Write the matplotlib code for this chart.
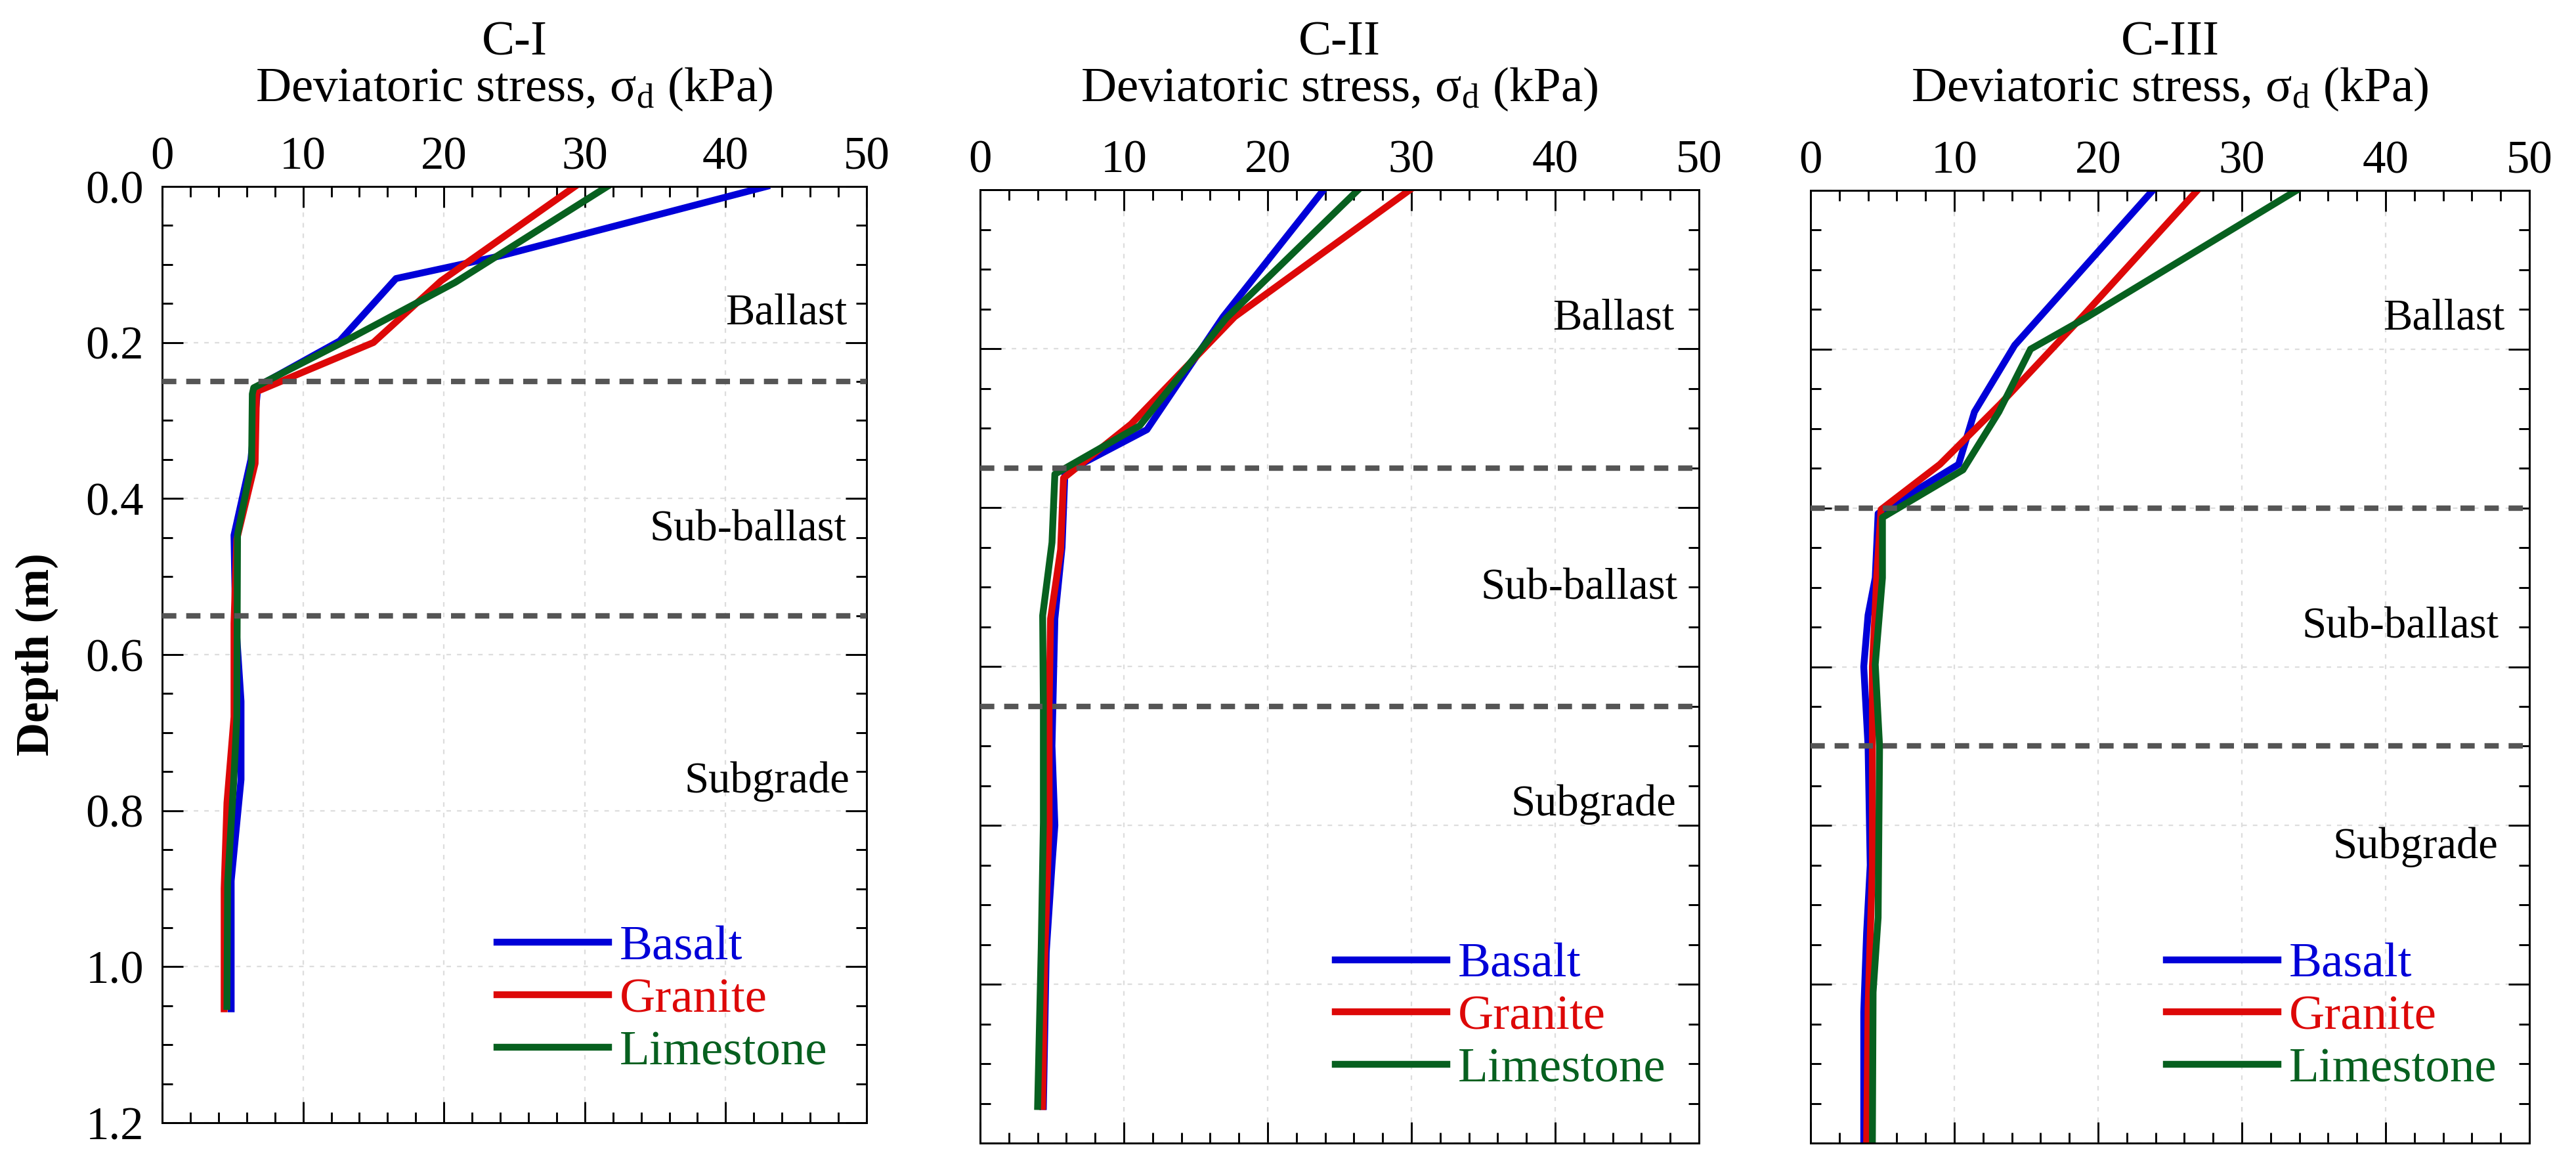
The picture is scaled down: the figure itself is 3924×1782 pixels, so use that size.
import numpy as np
import matplotlib
matplotlib.use("Agg")
import matplotlib.pyplot as plt
from matplotlib.ticker import MultipleLocator, FormatStrFormatter

plt.rcParams['font.family'] = ['Liberation Serif', 'DejaVu Serif']
plt.rcParams['mathtext.fontset'] = 'custom'
plt.rcParams['mathtext.rm'] = 'Liberation Serif'
plt.rcParams['mathtext.it'] = 'Liberation Serif:italic'

# ---- data (stress in kPa, depth in m) ----
panel_names = ['C-I', 'C-II', 'C-III']
materials = ['Basalt', 'Granite', 'Limestone']
colors = ['#0000D8', '#DD0808', '#07601F']

# C-I
c1_basalt_x = [42.9, 24.0, 16.6, 12.6, 6.8, 6.3, 5.1, 5.2, 5.6, 5.6, 4.9, 4.9]
c1_basalt_d = [0.0, 0.089, 0.118, 0.198, 0.256, 0.35, 0.447, 0.55, 0.66, 0.76, 0.89, 1.054]
c1_granite_x = [29.3, 19.8, 15.0, 6.7, 6.6, 5.3, 5.1, 5.1, 4.6, 4.4, 4.4]
c1_granite_d = [0.0, 0.121, 0.2, 0.263, 0.355, 0.452, 0.56, 0.68, 0.79, 0.90, 1.054]
c1_lime_x = [31.6, 20.8, 13.0, 6.5, 6.4, 6.35, 5.35, 5.3, 5.1, 4.65, 4.6]
c1_lime_d = [0.0, 0.123, 0.198, 0.258, 0.266, 0.355, 0.446, 0.68, 0.756, 0.892, 1.051]

# C-II
c2_basalt_x = [23.9, 16.9, 11.6, 5.9, 5.7, 5.2, 5.0, 5.2, 5.0, 4.6, 4.4]
c2_basalt_d = [0.0, 0.16, 0.302, 0.356, 0.45, 0.54, 0.70, 0.80, 0.85, 0.96, 1.154]
c2_granite_x = [29.9, 17.7, 10.5, 5.8, 5.6, 4.9, 4.8, 4.8, 4.5, 4.35]
c2_granite_d = [0.0, 0.16, 0.295, 0.363, 0.453, 0.54, 0.65, 0.80, 0.963, 1.154]
c2_lime_x = [26.3, 17.1, 11.1, 5.2, 5.0, 4.35, 4.4, 4.4, 4.25, 4.0]
c2_lime_d = [0.0, 0.162, 0.297, 0.358, 0.444, 0.536, 0.65, 0.797, 0.954, 1.154]

# C-III
c3_basalt_x = [23.8, 14.2, 11.4, 10.3, 4.7, 4.5, 4.0, 3.7, 4.0, 4.15, 3.9, 3.7, 3.7]
c3_basalt_d = [0.0, 0.195, 0.279, 0.345, 0.407, 0.488, 0.535, 0.6, 0.70, 0.85, 0.935, 1.035, 1.2]
c3_granite_x = [26.9, 19.0, 13.2, 9.0, 4.9, 4.6, 4.3, 4.3, 4.3, 4.0, 3.9]
c3_granite_d = [0.0, 0.157, 0.269, 0.345, 0.402, 0.488, 0.6, 0.70, 0.85, 1.03, 1.2]
c3_lime_x = [33.8, 19.2, 15.3, 13.1, 10.6, 5.0, 5.0, 4.5, 4.8, 4.7, 4.35, 4.3]
c3_lime_d = [0.0, 0.16, 0.2, 0.279, 0.352, 0.412, 0.488, 0.597, 0.70, 0.916, 1.01, 1.2]

series = [
    [(c1_basalt_x, c1_basalt_d), (c1_granite_x, c1_granite_d), (c1_lime_x, c1_lime_d)],
    [(c2_basalt_x, c2_basalt_d), (c2_granite_x, c2_granite_d), (c2_lime_x, c2_lime_d)],
    [(c3_basalt_x, c3_basalt_d), (c3_granite_x, c3_granite_d), (c3_lime_x, c3_lime_d)],
]

# layer boundaries (m) and layer label positions
boundaries = [[0.25, 0.55], [0.35, 0.65], [0.40, 0.70]]
layer_names = ['Ballast', 'Sub-ballast', 'Subgrade']
layer_label_x = [[48.6, 48.6, 48.8], [48.3, 48.5, 48.4], [48.3, 47.9, 47.8]]
layer_label_d = [[0.162, 0.44, 0.763], [0.162, 0.502, 0.774], [0.161, 0.55, 0.827]]

# ---- figure ----
W, H = 3924, 1782
fig = plt.figure(figsize=(W / 300, H / 300), dpi=300)

# axes boxes in pixels: left, top, right, bottom
boxes = [(247, 284, 1320, 1710), (1493, 289, 2588, 1741), (2758, 290, 3853, 1741)]
legend_anchor = [(0.475, 0.131), (0.494, 0.132), (0.495, 0.132)]

for i, (l, t, r, b) in enumerate(boxes):
    h = b - t
    ax = fig.add_axes([l / W, (H - b) / H, (r - l) / W, h / H])
    ax.set_xlim(0, 50)
    ax.set_ylim(1.2, 0)

    for (x, d), c, name in zip(series[i], colors, materials):
        ax.plot(x, d, color=c, lw=2.5, label=name)

    for yb in boundaries[i]:
        ax.axhline(yb, color='#555555', lw=2.0, ls=(0, (2.6, 1.8)), zorder=3)

    for name, tx, td in zip(layer_names, layer_label_x[i], layer_label_d[i]):
        ax.text(tx, td, name, ha='right', va='center', fontsize=16)

    ax.xaxis.set_major_locator(MultipleLocator(10))
    ax.xaxis.set_minor_locator(MultipleLocator(2))
    ax.yaxis.set_major_locator(MultipleLocator(0.2))
    ax.yaxis.set_minor_locator(MultipleLocator(0.05))
    ax.yaxis.set_major_formatter(FormatStrFormatter('%.1f'))

    ax.tick_params(which='both', direction='in', top=True, bottom=True,
                   left=True, right=True, labeltop=True, labelbottom=False,
                   width=0.7, labelsize=17)
    ax.tick_params(which='major', length=7.7)
    ax.tick_params(which='minor', length=3.8)
    ax.tick_params(axis='x', which='major', pad=2.7)
    ax.tick_params(axis='y', which='major', pad=6.7)
    if i > 0:
        ax.tick_params(labelleft=False)
    else:
        ax.set_ylabel('Depth (m)', fontsize=17, fontweight='bold', labelpad=10)

    for sp in ax.spines.values():
        sp.set_linewidth(0.7)

    ax.grid(True, which='major', color='#DDDDDD', lw=0.55, ls=(0, (3, 4)))
    ax.set_axisbelow(True)

    ax.xaxis.set_label_position('top')
    ax.set_xlabel(r'Deviatoric stress, $\mathrm{\sigma_d}$ (kPa)', fontsize=18)
    ax.xaxis.label.set_verticalalignment('baseline')
    ax.xaxis.set_label_coords(0.5, 1 + (t - 154) / h)
    ax.set_title(panel_names[i], fontsize=18, y=1 + (t - 83) / h, pad=0,
                 va='baseline')

    ax.legend(loc='center left', bbox_to_anchor=legend_anchor[i], frameon=False,
              borderpad=0, borderaxespad=0, handlelength=2.27, handletextpad=0.22,
              labelspacing=0.15, fontsize=18, labelcolor='linecolor')

fig.savefig('out.png', dpi=300)
